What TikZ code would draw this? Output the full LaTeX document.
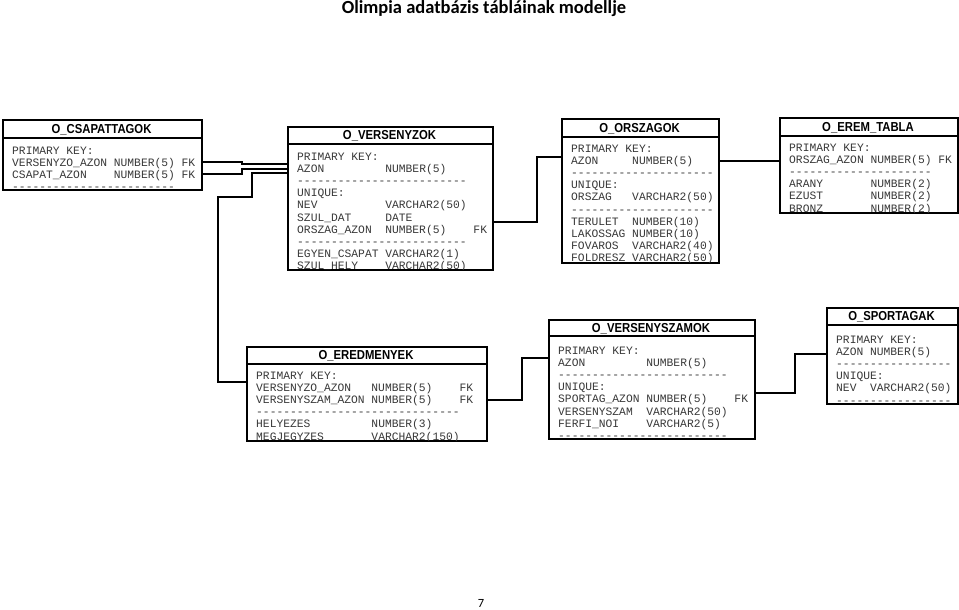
\documentclass[tikz,border=0pt]{standalone}
\usepackage{graphicx}
\usepackage{fontspec}
\setmainfont{Carlito}
\newfontfamily\monof{Liberation Mono}
\newfontfamily\hdrf{Liberation Sans}
\tikzset{
  tblbox/.style={draw=black, line width=1.6pt, inner sep=0pt},
  sepline/.style={draw=black, line width=1.6pt},
  hdr/.style={font=\hdrf\bfseries\fontsize{13}{15}\selectfont, inner sep=0pt, anchor=base},
  row/.style={font=\monof\fontsize{11.3}{12.2}\selectfont, text=black!78, inner sep=0pt, anchor=base west},
  link/.style={draw=black, line width=1.6pt},
}
% #1 name, #2 left, #3 top, #4 right, #5 bottom, #6 header line, #7 title, #8 first row centre, #9 rows
\newcommand\dbtable[9]{%
  \node[tblbox, anchor=north west, minimum width={(#4)-(#2)}, minimum height={(#5)-(#3)}] (#1) at (#2,#3) {};
  \draw[sepline] (#1.west |- 0,#6) -- (#1.east |- 0,#6);
  \node[hdr] (#1-title) at ({(#2+#4)/2},{(#3+#6)/2+4.6}) {\scalebox{0.87}[1]{#7}};
  \begin{scope}
    \clip (#2,#3) rectangle (#4,#5);
    \foreach \l [count=\i from 0] in {#9}
      \node[row] (#1-r\i) at ({#2+10},{#8+5+12.2*\i}) {\l};
  \end{scope}
}
\begin{document}
\begin{tikzpicture}[x=1pt,y=-1pt]
\useasboundingbox[fill=white] (0,0) rectangle (959,610);

\node[font=\fontsize{18.5}{22}\selectfont\bfseries, anchor=base, inner sep=0pt] (title) at (484,14) {Olimpia adatbázis tábláinak modellje};
\node[font=\fontsize{12.5}{14}\selectfont, anchor=base, inner sep=0pt] (page) at (481,607) {7};

\dbtable{cs}{2}{119}{201}{189}{138}{O\_CSAPATTAGOK}{149}{%
  PRIMARY~KEY:,
  VERSENYZO\_AZON~NUMBER(5)~FK,
  CSAPAT\_AZON~~~~NUMBER(5)~FK,
  ------------------------}

\dbtable{vz}{287}{126}{492}{269}{144}{O\_VERSENYZOK}{155}{%
  PRIMARY~KEY:,
  AZON~~~~~~~~~NUMBER(5),
  -------------------------,
  UNIQUE:,
  NEV~~~~~~~~~~VARCHAR2(50),
  SZUL\_DAT~~~~~DATE,
  ORSZAG\_AZON~~NUMBER(5)~~~~FK,
  -------------------------,
  EGYEN\_CSAPAT~VARCHAR2(1),
  SZUL\_HELY~~~~VARCHAR2(50)}

\dbtable{os}{561}{118}{718}{262}{137}{O\_ORSZAGOK}{147}{%
  PRIMARY~KEY:,
  AZON~~~~~NUMBER(5),
  ---------------------,
  UNIQUE:,
  ORSZAG~~~VARCHAR2(50),
  ---------------------,
  TERULET~~NUMBER(10),
  LAKOSSAG~NUMBER(10),
  FOVAROS~~VARCHAR2(40),
  FOLDRESZ~VARCHAR2(50)}

\dbtable{em}{779}{117}{957}{212}{136}{O\_EREM\_TABLA}{146}{%
  PRIMARY~KEY:,
  ORSZAG\_AZON~NUMBER(5)~FK,
  ---------------------,
  ARANY~~~~~~~NUMBER(2),
  EZUST~~~~~~~NUMBER(2),
  BRONZ~~~~~~~NUMBER(2)}

\dbtable{ed}{246}{346}{486}{440}{364}{O\_EREDMENYEK}{374}{%
  PRIMARY~KEY:,
  VERSENYZO\_AZON~~~NUMBER(5)~~~~FK,
  VERSENYSZAM\_AZON~NUMBER(5)~~~~FK,
  ------------------------------,
  HELYEZES~~~~~~~~~NUMBER(3),
  MEGJEGYZES~~~~~~~VARCHAR2(150)}

\dbtable{vs}{548}{319}{754}{438}{336}{O\_VERSENYSZAMOK}{349}{%
  PRIMARY~KEY:,
  AZON~~~~~~~~~NUMBER(5),
  -------------------------,
  UNIQUE:,
  SPORTAG\_AZON~NUMBER(5)~~~~FK,
  VERSENYSZAM~~VARCHAR2(50),
  FERFI\_NOI~~~~VARCHAR2(5),
  -------------------------}

\dbtable{sp}{826}{307}{957}{403}{325}{O\_SPORTAGAK}{338}{%
  PRIMARY~KEY:,
  AZON~NUMBER(5),
  -----------------,
  UNIQUE:,
  NEV~~VARCHAR2(50),
  -----------------}

% connectors
\draw[link] (cs.east |- 0,162) -- (242,162) -- (242,164) -- (vz.west |- 0,164);
\draw[link] (cs.east |- 0,174) -- (242,174) -- (242,169) -- (vz.west |- 0,169);
\draw[link] (vz.west |- 0,173) -- (252,173) -- (252,197) -- (218,197) -- (218,382) -- (ed.west |- 0,382);
\draw[link] (vz.east |- 0,222) -| (537,157) -- (os.west |- 0,157);
\draw[link] (os.east |- 0,161) -- (em.west |- 0,161);
\draw[link] (ed.east |- 0,400) -| (522,358) -- (vs.west |- 0,358);
\draw[link] (vs.east |- 0,393) -| (795,354) -- (sp.west |- 0,354);
\end{tikzpicture}
\end{document}
